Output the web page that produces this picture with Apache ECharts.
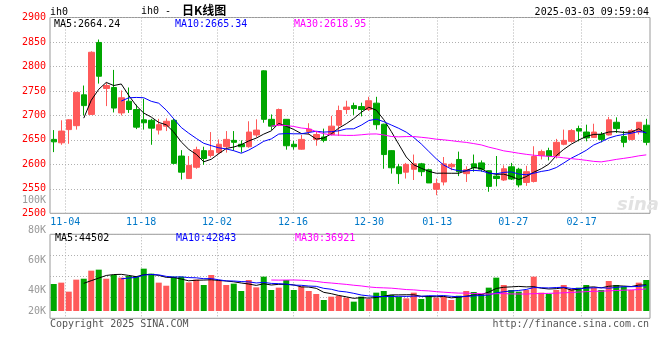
<!DOCTYPE html>
<html>
<head>
<meta charset="utf-8">
<script src="https://cdn.jsdelivr.net/npm/echarts@6/dist/echarts.min.js"></script>
<style>html,body{margin:0;padding:0;background:#fff}#c{width:660px;height:360px}</style>
</head>
<body>
<div id="c"></div>
<script>
const dates = ['10-31','11-01',
 '11-04','11-05','11-06','11-07','11-08','11-11','11-12','11-13','11-14','11-15',
 '11-18','11-19','11-20','11-21','11-22','11-25','11-26','11-27','11-28','11-29',
 '12-02','12-03','12-04','12-05','12-06','12-09','12-10','12-11','12-12','12-13',
 '12-16','12-17','12-18','12-19','12-20','12-23','12-24','12-25','12-26','12-27',
 '12-30','12-31','01-02','01-03','01-06','01-07','01-08','01-09','01-10',
 '01-13','01-14','01-15','01-16','01-17','01-20','01-21','01-22','01-23','01-24',
 '01-27','02-05','02-06','02-07','02-10','02-11','02-12','02-13','02-14',
 '02-17','02-18','02-19','02-20','02-21','02-24','02-25','02-26','02-27','02-28'];
const openP  = [2651,2644,2671,2679,2742,2702,2849,2755,2757,2705,2729,2712,2691,2690,2670,2678,2690,2617,2571,2594,
                2628,2618,2624,2636,2649,2641,2636,2660,2791,2692,2680,2692,2641,2631,2667,2651,2656,2661,2680,2712,
                2720,2718,2712,2725,2682,2628,2595,2584,2590,2601,2589,2549,2564,2595,2610,2581,2601,2603,2587,2576,
                2568,2595,2590,2563,2565,2618,2628,2618,2641,2647,2673,2666,2655,2661,2660,2686,2657,2651,2666,2680];
const closeP = [2646,2668,2691,2747,2720,2829,2780,2761,2715,2736,2712,2676,2685,2674,2681,2688,2602,2584,2598,2630,
                2612,2628,2641,2651,2645,2636,2666,2670,2692,2678,2712,2638,2636,2651,2672,2661,2649,2678,2710,2717,
                2714,2712,2730,2681,2620,2593,2581,2600,2601,2585,2562,2561,2601,2600,2585,2589,2593,2590,2555,2571,
                2591,2570,2558,2585,2616,2626,2617,2645,2649,2669,2668,2654,2666,2651,2691,2673,2645,2669,2686,2645];
const lowP   = [2625,2640,2642,2671,2700,2701,2765,2719,2706,2700,2705,2672,2671,2640,2661,2668,2600,2569,2570,2591,
                2599,2614,2621,2624,2628,2624,2634,2655,2685,2670,2678,2630,2630,2630,2661,2638,2645,2659,2658,2703,
                2701,2698,2709,2671,2591,2581,2560,2571,2568,2576,2562,2537,2557,2588,2576,2564,2585,2585,2544,2555,
                2566,2568,2553,2556,2563,2610,2608,2612,2639,2644,2647,2647,2654,2645,2659,2664,2635,2649,2661,2639];
const highP  = [2670,2690,2692,2748,2761,2831,2855,2766,2793,2751,2757,2722,2734,2693,2693,2694,2693,2629,2617,2636,
                2636,2666,2651,2668,2668,2649,2688,2692,2792,2702,2714,2692,2648,2660,2684,2668,2673,2699,2720,2730,
                2726,2726,2738,2738,2683,2629,2601,2603,2620,2603,2591,2571,2615,2603,2626,2596,2620,2608,2588,2617,
                2598,2603,2593,2597,2637,2630,2634,2652,2671,2672,2679,2681,2683,2666,2697,2696,2668,2672,2686,2693];
const volume = [45900,48200,32900,53300,54900,68600,70300,54900,61200,56700,
                59500,59500,72000,63500,48200,43000,58400,58400,48700,53300,
                44200,61200,52100,44200,46500,34000,52700,40200,58400,35700,
                39700,52700,35700,41400,34000,28900,18700,24400,26000,22700,
                15900,24400,20400,31200,34000,27200,24400,21500,31200,20400,
                25500,22700,24400,18700,26000,34000,32300,28900,39700,56700,
                44200,35700,32900,35700,58400,31200,28900,35700,44200,37400,
                39700,44200,39700,35700,51000,44200,41400,35700,48200,52700];
const dateTickLabels = ['11-04','11-18','12-02','12-16','12-30','01-13','01-27','02-17'];
const volTickLabels = ['80K','60K','40K','20K'];
const maPeriods = [5, 10, 30];
const maMainValues = ['2664.24', '2665.34', '2618.95'];
const maVolValues = ['44502', '42843', '36921'];
const headerTime = '2025-03-03 09:59:04';

const UP = '#ff5a5a', DOWN = '#00a600';
const maColors = ['#000000', '#0000ff', '#ff00ff'];
const MONO = '"DejaVu Sans Mono", "Liberation Mono", monospace';
const f10 = '10px ' + MONO;

function ma(arr, n) {
  return arr.map((v, i) => {
    if (i < n - 1) return null;
    let s = 0;
    for (let k = i - n + 1; k <= i; k++) s += arr[k];
    return +(s / n).toFixed(2);
  });
}

const candleData = dates.map((d, i) => [openP[i], closeP[i], lowP[i], highP[i]]);
const volData = volume.map((v, i) => ({ value: v, itemStyle: { color: closeP[i] >= openP[i] ? UP : DOWN } }));
const showTick = (idx, val) => dateTickLabels.indexOf(val) >= 0;
const gridDash = { color: '#b0b0b0', type: [1, 2], width: 1 };

const series = [{
  type: 'candlestick', xAxisIndex: 0, yAxisIndex: 0, data: candleData, barWidth: 6,
  itemStyle: { color: UP, color0: DOWN, borderColor: UP, borderColor0: DOWN, borderWidth: 1 }
}, {
  type: 'bar', xAxisIndex: 2, yAxisIndex: 1, data: volData, barWidth: 6
}];
maPeriods.forEach((p, k) => {
  series.push({ type: 'line', xAxisIndex: 0, yAxisIndex: 0, data: ma(closeP, p), symbol: 'none',
    lineStyle: { color: maColors[k], width: 1 }, z: 5 });
  series.push({ type: 'line', xAxisIndex: 2, yAxisIndex: 1, data: ma(volume, p), symbol: 'none',
    lineStyle: { color: maColors[k], width: 1 }, z: 5 });
});

const txt = (text, x, y, opt) => Object.assign({ type: 'text', x: x, y: y, silent: true, z: 100,
  style: Object.assign({ text: text, font: f10, fill: '#000', align: 'left', verticalAlign: 'middle' }, opt || {}) });

const legendX = [54, 175, 294];
const graphics = [
  txt('ih0', 50, 12),
  txt('ih0 - ', 141, 11),
  txt('日K线图', 182, 10, { font: 'bold 12px "Noto Sans CJK SC"' }),
  txt(headerTime, 649, 12, { align: 'right' }),
  txt('100K', 46, 200, { align: 'right', fill: '#999' }),
  txt('Copyright 2025 SINA.COM', 50, 324, { fill: '#555' }),
  txt('http://finance.sina.com.cn', 649, 324, { align: 'right', fill: '#555' }),
  txt('sina', 617, 205, { font: 'italic bold 18px "DejaVu Sans"', fill: '#e2e2e2' })
];
maPeriods.forEach((p, k) => {
  graphics.push(txt('MA' + p + ':' + maMainValues[k], legendX[k], 24, { fill: maColors[k] }));
  graphics.push(txt('MA' + p + ':' + maVolValues[k], legendX[k] + 1, 238.5, { fill: maColors[k] }));
});
const volLabelY = [230, 260, 290.7, 311];
volTickLabels.forEach((t, k) => graphics.push(txt(t, 46, volLabelY[k], { align: 'right', fill: '#999' })));

const chart = echarts.init(document.getElementById('c'), null, { renderer: 'canvas' });
chart.setOption({
  animation: false,
  backgroundColor: '#fff',
  grid: [
    { left: 50, top: 17.5, width: 600, height: 195.8, show: true, borderColor: '#999', borderWidth: 1, backgroundColor: 'transparent' },
    { left: 50, top: 234.3, width: 600, height: 84, show: true, borderColor: '#999', borderWidth: 1, backgroundColor: 'transparent' }
  ],
  xAxis: [
    { type: 'category', gridIndex: 0, data: dates, boundaryGap: true, show: false },
    { type: 'category', gridIndex: 0, data: dates, boundaryGap: false, position: 'bottom',
      axisLine: { show: false }, axisTick: { show: false },
      axisLabel: { interval: showTick, color: '#0078c8', fontFamily: MONO, fontSize: 10, margin: 4 },
      splitLine: { show: true, interval: showTick, lineStyle: gridDash } },
    { type: 'category', gridIndex: 1, data: dates, boundaryGap: true, show: false },
    { type: 'category', gridIndex: 1, data: dates, boundaryGap: false,
      axisLine: { show: false }, axisTick: { show: false }, axisLabel: { show: false },
      splitLine: { show: true, interval: showTick, lineStyle: gridDash } }
  ],
  yAxis: [
    { type: 'value', gridIndex: 0, min: 2500, max: 2900, interval: 50, scale: true,
      axisLine: { show: false }, axisTick: { show: false },
      axisLabel: { color: '#ff0000', fontFamily: MONO, fontSize: 10, margin: 4, formatter: v => String(v) },
      splitLine: { show: true, lineStyle: gridDash } },
    { type: 'value', gridIndex: 1, min: -12400, max: 130400, show: false },
    { type: 'value', gridIndex: 1, min: 0, max: 4, interval: 1,
      axisLine: { show: false }, axisTick: { show: false }, axisLabel: { show: false },
      splitLine: { show: true, lineStyle: gridDash } }
  ],
  series: series,
  graphic: graphics
});
</script>
</body>
</html>
